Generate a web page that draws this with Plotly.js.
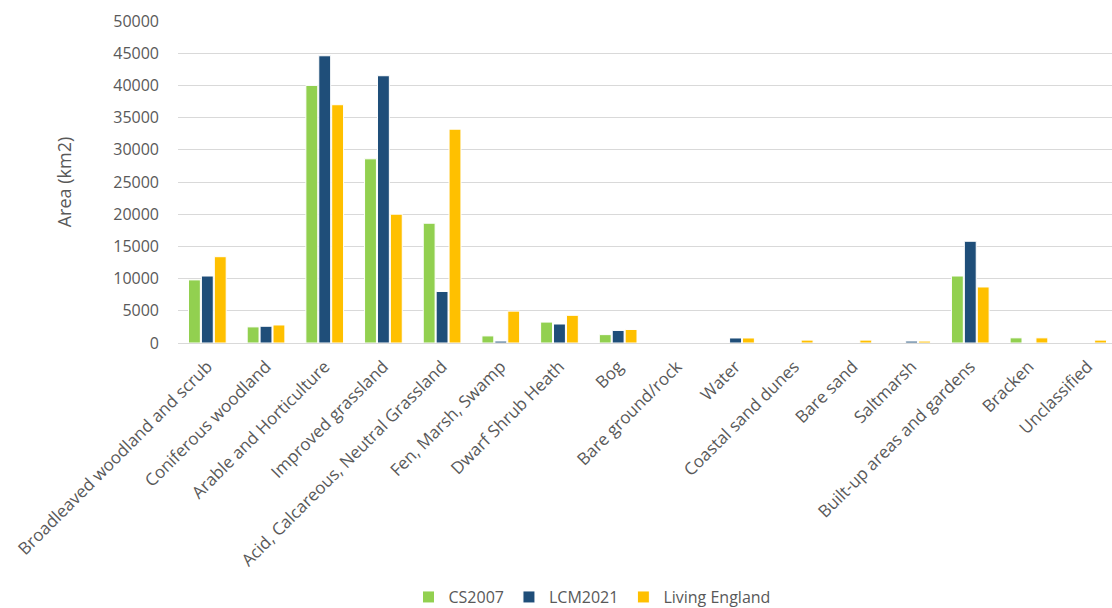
<!DOCTYPE html>
<html>
<head>
<meta charset="utf-8">
<script src="https://cdn.plot.ly/plotly-3.0.1.min.js"></script>
<style>html,body{margin:0;padding:0;overflow:hidden;background:#fff}#chart{width:1117px;height:608px}</style>
</head>
<body>
<div id="chart"></div>
<script>
const categories = ["Broadleaved woodland and scrub","Coniferous woodland","Arable and Horticulture","Improved grassland","Acid, Calcareous, Neutral Grassland","Fen, Marsh, Swamp","Dwarf Shrub Heath","Bog","Bare ground/rock","Water","Coastal sand dunes","Bare sand","Saltmarsh","Built-up areas and gardens","Bracken","Unclassified"];
const cs2007 = [9800,2500,40000,28600,18600,1100,3250,1300,0,0,0,0,0,10400,800,0];
const lcm2021 = [10400,2600,44600,41500,8000,300,2950,1950,0,780,0,0,300,15800,0,0];
const livingEngland = [13400,2800,37000,20000,33200,4950,4300,2100,0,780,450,450,300,8700,800,450];
const seriesNames = ["CS2007","LCM2021","Living England"];
const seriesColors = ["#92d050","#1f4e79","#ffc000"];
const yTicks = [0,5000,10000,15000,20000,25000,30000,35000,40000,45000,50000];

const values = [cs2007, lcm2021, livingEngland];
const traces = values.map((v,i)=>({
  type:'bar', x:categories, y:v, name:seriesNames[i],
  marker:{color:seriesColors[i], line:{color:'#ffffff', width:1}},
  hoverinfo:'x+y+name'
}));
const font = "Open Sans, Liberation Sans, Arial, sans-serif";
const layout = {
  width:1117, height:608,
  margin:{l:178, r:0, t:21, b:265},
  paper_bgcolor:'#fff', plot_bgcolor:'#fff',
  barmode:'group', bargap:0.34, bargroupgap:0.08,
  font:{family:font, color:'#595959', size:16},
  xaxis:{
    type:'category', tickangle:-45, showgrid:false, zeroline:false, showline:false,
    tickfont:{family:font, size:17, color:'#595959'}, ticks:'outside', ticklen:6, tickcolor:'rgba(0,0,0,0)'
  },
  yaxis:{
    range:[0,50000], tickvals:yTicks, ticktext:yTicks.map(String),
    showgrid:true, gridcolor:'#d9d9d9', gridwidth:1, zeroline:true, zerolinecolor:'#d9d9d9', zerolinewidth:1,
    showline:false, ticks:'', ticklabelstandoff:18,
    tickfont:{family:font, size:16, color:'#595959'},
    title:{text:'Area (km2)', font:{family:font, size:18, color:'#595959'}, standoff:36}
  },
  showlegend:true,
  legend:{orientation:'h', xref:'container', yref:'container', x:0.53, y:0.018, xanchor:'center', yanchor:'middle',
    font:{family:font, size:16, color:'#595959'}, itemwidth:30, traceorder:'normal'}
};
Plotly.newPlot('chart', traces, layout, {displayModeBar:false, staticPlot:true});
</script>
</body>
</html>
